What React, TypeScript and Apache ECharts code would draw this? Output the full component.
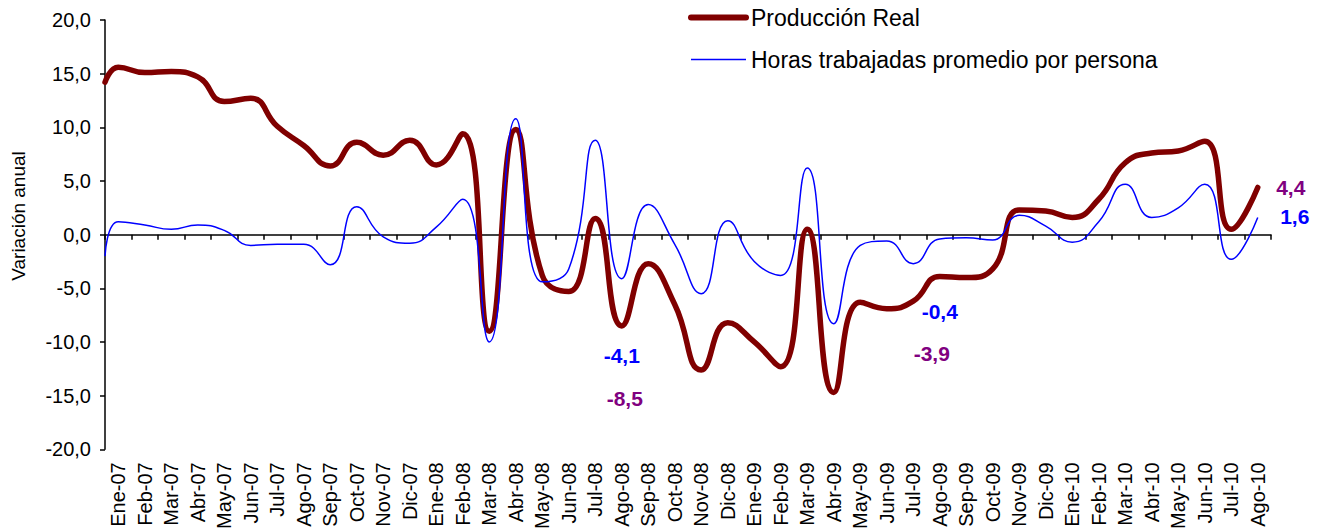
import React, { useEffect, useRef } from 'react';
import * as echarts from 'echarts';

const meses = [
  'Ene-07', 'Feb-07', 'Mar-07', 'Abr-07', 'May-07', 'Jun-07', 'Jul-07', 'Ago-07', 'Sep-07', 'Oct-07', 'Nov-07', 'Dic-07',
  'Ene-08', 'Feb-08', 'Mar-08', 'Abr-08', 'May-08', 'Jun-08', 'Jul-08', 'Ago-08', 'Sep-08', 'Oct-08', 'Nov-08', 'Dic-08',
  'Ene-09', 'Feb-09', 'Mar-09', 'Abr-09', 'May-09', 'Jun-09', 'Jul-09', 'Ago-09', 'Sep-09', 'Oct-09', 'Nov-09', 'Dic-09',
  'Ene-10', 'Feb-10', 'Mar-10', 'Abr-10', 'May-10', 'Jun-10', 'Jul-10', 'Ago-10',
];

// Variación anual (%), one value per month
const produccionReal = [
  15.6, 15.1, 15.2, 14.7, 12.4, 12.7, 10.1, 8.3, 6.4, 8.6, 7.4, 8.8,
  6.5, 9.4, -9.0, 9.8, -3.8, -5.3, 1.5, -8.5, -2.7, -6.5, -12.6, -8.2,
  -10.0, -12.3, 0.5, -14.7, -6.3, -6.9, -6.2, -3.9, -4.0, -3.2, 2.3, 2.2,
  1.6, 3.3, 6.7, 7.6, 7.8, 8.7, 0.5, 4.4,
];
const horasTrabajadas = [
  1.2, 0.9, 0.5, 0.9, 0.4, -1.0, -0.9, -0.9, -2.8, 2.6, -0.2, -0.8,
  0.7, 3.3, -10.0, 10.8, -4.4, -3.2, 8.8, -4.1, 2.8, -0.9, -5.5, 1.3,
  -2.5, -3.8, 6.2, -8.3, -1.0, -0.6, -2.7, -0.4, -0.3, -0.5, 1.8, 0.8,
  -0.7, 1.2, 4.7, 1.6, 2.5, 4.7, -2.3, 1.6,
];
// values at the very start of the period (left edge of the axis)
const produccionInicio = 14.2;
const horasInicio = -2.0;

// months annotated with their value (Ago-08, Ago-09, Ago-10)
const mesesAnotados = ['Ago-08', 'Ago-09', 'Ago-10'];
const offsetsProduccion = [[3, 73], [-8, 77], [33, 0]];
const offsetsHoras = [[0, 77], [0, 73], [37, -1]];

const yMin = -20;
const yMax = 20;
const yInterval = 5;

const FONT = '"Liberation Sans", Arial, sans-serif';
const fmt = (v: number) => v.toFixed(1).replace('.', ',');

const toSeriesData = (inicio: number, vals: number[]) => [
  [0, inicio],
  ...vals.map((v, i) => [i + 0.5, v]),
];

const marks = (vals: number[], offsets: number[][], color: string) =>
  mesesAnotados.map((m, k) => {
    const idx = meses.indexOf(m);
    return {
      coord: [idx + 0.5, vals[idx]],
      value: vals[idx],
      symbolSize: 0,
      label: {
        show: true,
        position: 'inside',
        offset: offsets[k],
        formatter: fmt(vals[idx]),
        color,
        fontFamily: FONT,
        fontWeight: 'bold',
        fontSize: 21,
      },
    };
  });

export default function App() {
  const ref = useRef<HTMLDivElement>(null);

  useEffect(() => {
    if (!ref.current) return;
    const chart = echarts.init(ref.current, null, { renderer: 'svg' });
    chart.setOption({
      animation: false,
      backgroundColor: '#ffffff',
      textStyle: { fontFamily: FONT },
      grid: { left: 105, top: 20, width: 1166, height: 429.3, containLabel: false, outerBoundsMode: 'none' },
      legend: {
        orient: 'vertical',
        left: 688,
        top: 6,
        padding: 0,
        itemWidth: 55,
        itemHeight: 14,
        itemGap: 19,
        itemStyle: { opacity: 0 },
        textStyle: { fontSize: 23, color: '#000', fontFamily: FONT },
        data: [
          { name: 'Producción Real', lineStyle: { width: 6, color: '#800000', cap: 'round' } },
          { name: 'Horas trabajadas promedio por persona', lineStyle: { width: 1.5, color: '#0000FF' } },
        ],
      },
      xAxis: [
        {
          type: 'category',
          data: meses,
          boundaryGap: true,
          position: 'bottom',
          axisLine: { show: true, onZero: true, lineStyle: { color: '#000', width: 1.5 } },
          axisTick: { show: true, length: 5, inside: false, lineStyle: { color: '#000', width: 1.5 } },
          axisLabel: {
            show: true,
            interval: 0,
            rotate: 90,
            margin: 13,
            fontSize: 20,
            color: '#000',
            fontFamily: FONT,
          },
          splitLine: { show: false },
        },
        {
          type: 'value',
          min: 0,
          max: meses.length,
          show: false,
        },
      ],
      yAxis: {
        type: 'value',
        min: yMin,
        max: yMax,
        interval: yInterval,
        axisLine: { show: true, lineStyle: { color: '#000', width: 1.5 } },
        axisTick: { show: true, length: 5, inside: false, lineStyle: { color: '#000', width: 1.5 } },
        axisLabel: {
          formatter: (v: number) => fmt(v),
          fontSize: 20,
          color: '#000',
          margin: 14,
          fontFamily: FONT,
        },
        splitLine: { show: false },
      },
      graphic: [
        {
          type: 'text',
          x: 18,
          y: 216,
          rotation: Math.PI / 2,
          style: {
            text: 'Variación anual',
            fontSize: 19,
            fill: '#000',
            fontFamily: FONT,
            align: 'center',
            verticalAlign: 'middle',
          },
        },
      ],
      series: [
        {
          name: 'Producción Real',
          type: 'line',
          xAxisIndex: 1,
          data: toSeriesData(produccionInicio, produccionReal),
          smooth: true,
          symbol: 'none',
          lineStyle: { color: '#800000', width: 5.5, cap: 'round', join: 'round' },
          itemStyle: { color: '#800000' },
          markPoint: {
            symbol: 'circle',
            symbolSize: 0,
            data: marks(produccionReal, offsetsProduccion, '#800080'),
          },
          z: 2,
        },
        {
          name: 'Horas trabajadas promedio por persona',
          type: 'line',
          xAxisIndex: 1,
          data: toSeriesData(horasInicio, horasTrabajadas),
          smooth: true,
          symbol: 'none',
          lineStyle: { color: '#0000FF', width: 1.5 },
          itemStyle: { color: '#0000FF' },
          markPoint: {
            symbol: 'circle',
            symbolSize: 0,
            data: marks(horasTrabajadas, offsetsHoras, '#0000FF'),
          },
          z: 3,
        },
      ],
    });
    return () => chart.dispose();
  }, []);

  return (
    <div
      ref={ref}
      style={{ position: 'absolute', left: 0, top: 0, width: 1323, height: 532 }}
    />
  );
}
